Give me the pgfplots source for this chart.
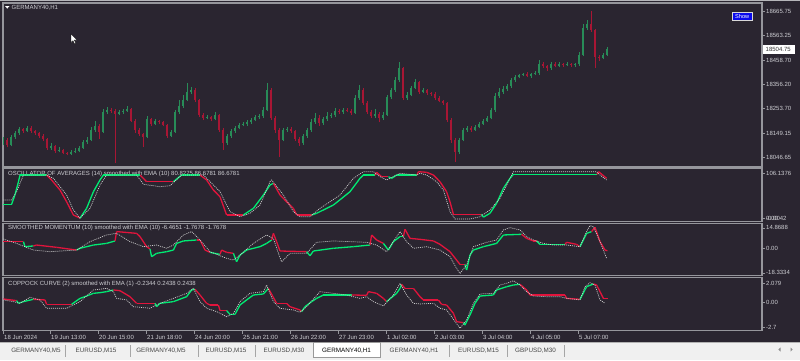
\documentclass[border=0pt]{standalone}
\usepackage{fontspec}
\setmainfont{Liberation Sans}
\usepackage{pgfplots}
\usepackage{pgfplotstable}
\pgfplotsset{compat=1.18}
\definecolor{bg}{RGB}{42,37,48}
\definecolor{bordc}{RGB}{150,150,156}
\definecolor{labc}{RGB}{205,205,210}
\definecolor{cgreen}{RGB}{40,140,88}
\definecolor{cred}{RGB}{168,22,52}
\definecolor{igreen}{RGB}{0,235,115}
\definecolor{ired}{RGB}{225,20,60}
\definecolor{sigc}{RGB}{205,205,205}
\definecolor{tabbg}{RGB}{240,240,240}
\definecolor{tabtx}{RGB}{70,70,70}
\definecolor{showblue}{RGB}{10,10,235}
\newcommand\lbl{\fontsize{6}{7}\selectfont}
\newcommand\tabf{\fontsize{6.3}{7}\selectfont}

\pgfplotstableread{
x o h l c
0 18110 18135 18098 18121
2 18121 18130 18090 18100
4 18100 18140 18094 18133
6 18133 18158 18126 18150
8 18150 18176 18143 18167
10 18167 18173 18152 18159
12 18159 18180 18154 18172
14 18172 18178 18152 18159
16 18159 18165 18144 18150
18 18150 18156 18131 18138
20 18138 18145 18118 18125
22 18125 18131 18078 18087
24 18087 18110 18080 18095
26 18095 18100 18066 18074
28 18074 18090 18068 18078
30 18078 18083 18060 18066
32 18066 18072 18056 18062
34 18062 18078 18058 18070
36 18070 18085 18064 18074
38 18074 18095 18068 18087
40 18087 18120 18082 18112
42 18112 18135 18104 18121
44 18121 18175 18115 18163
46 18163 18200 18155 18180
48 18180 18188 18125 18155
50 18155 18250 18150 18239
52 18239 18262 18230 18248
54 18248 18256 18236 18245
56 18245 18250 18023 18232
58 18232 18248 18225 18240
60 18240 18252 18232 18245
62 18245 18265 18240 18252
64 18252 18258 18195 18201
66 18201 18208 18150 18163
68 18163 18170 18138 18146
70 18146 18152 18091 18134
72 18134 18222 18128 18210
74 18210 18216 18182 18189
76 18189 18210 18183 18201
78 18201 18206 18190 18197
80 18197 18203 18178 18184
82 18184 18190 18130 18138
84 18138 18165 18132 18155
86 18155 18246 18150 18239
88 18239 18290 18233 18265
90 18265 18310 18258 18290
92 18290 18362 18284 18324
94 18324 18345 18315 18332
96 18332 18340 18282 18290
98 18290 18296 18218 18227
100 18227 18234 18205 18214
102 18214 18228 18208 18218
104 18218 18224 18202 18210
106 18210 18240 18204 18227
108 18227 18233 18155 18163
110 18163 18170 18078 18108
112 18108 18145 18100 18138
114 18138 18168 18130 18159
116 18159 18182 18150 18172
118 18172 18192 18166 18184
120 18184 18198 18178 18189
122 18189 18205 18182 18197
124 18197 18212 18190 18205
126 18205 18226 18200 18218
128 18218 18230 18210 18222
130 18222 18262 18216 18248
132 18248 18362 18242 18332
134 18332 18340 18205 18214
136 18214 18222 18150 18163
138 18163 18170 18049 18121
140 18121 18172 18115 18163
142 18163 18176 18155 18167
144 18167 18174 18150 18159
146 18159 18165 18116 18125
148 18125 18132 18095 18108
150 18108 18146 18100 18138
152 18138 18172 18130 18163
154 18163 18208 18155 18197
156 18197 18235 18190 18214
158 18214 18225 18180 18193
160 18193 18220 18185 18210
162 18210 18240 18203 18222
164 18222 18236 18215 18227
166 18227 18255 18220 18244
168 18244 18250 18232 18239
170 18239 18256 18232 18248
172 18248 18255 18238 18244
174 18244 18250 18228 18235
176 18235 18310 18230 18299
178 18299 18354 18290 18332
180 18332 18340 18268 18277
182 18277 18285 18230 18239
184 18239 18246 18212 18222
186 18222 18250 18215 18231
188 18231 18238 18195 18214
190 18214 18240 18205 18227
192 18227 18312 18222 18303
194 18303 18342 18296 18332
196 18332 18388 18326 18375
198 18375 18451 18368 18426
200 18426 18432 18290 18299
202 18299 18322 18290 18311
204 18311 18350 18305 18341
206 18341 18380 18335 18366
208 18366 18372 18316 18324
210 18324 18340 18318 18332
212 18332 18338 18312 18320
214 18320 18326 18308 18316
216 18316 18322 18292 18299
218 18299 18305 18280 18286
220 18286 18292 18268 18277
222 18277 18282 18195 18205
224 18205 18212 18110 18121
226 18121 18128 18028 18070
228 18070 18130 18062 18121
230 18121 18172 18115 18163
232 18163 18182 18155 18172
234 18172 18180 18155 18163
236 18163 18184 18158 18176
238 18176 18196 18170 18189
240 18189 18208 18184 18201
242 18201 18222 18196 18214
244 18214 18258 18208 18248
246 18248 18318 18240 18307
248 18307 18340 18298 18324
250 18324 18350 18315 18337
252 18337 18360 18330 18349
254 18349 18385 18342 18375
256 18375 18395 18368 18388
258 18388 18402 18382 18396
260 18396 18406 18390 18400
262 18400 18408 18386 18392
264 18392 18406 18385 18400
266 18400 18412 18394 18405
268 18405 18460 18398 18443
270 18443 18452 18426 18434
272 18434 18440 18415 18426
274 18426 18452 18418 18443
276 18443 18450 18428 18434
278 18434 18450 18428 18443
280 18443 18448 18432 18438
282 18438 18450 18434 18443
284 18443 18448 18432 18438
286 18438 18448 18432 18443
288 18443 18492 18436 18481
290 18481 18612 18476 18595
292 18595 18628 18588 18612
294 18612 18667 18578 18587
296 18587 18592 18426 18472
298 18472 18480 18455 18468
300 18468 18488 18462 18481
302 18481 18515 18476 18505
}\candles

\pgfplotstableread{
b v f
0.2 32.3 1
4.3 32.3 1
6 55 1
7.7 85 1
8.5 101.4 1
21.8 101.4 0
24.3 89.6 0
28.5 66.0 0
31.8 38.4 0
35.2 7.1 0
37.7 1.6 0
38.5 -0.4 1
41.8 22.8 1
45.2 62.0 1
48.5 89.6 1
50.2 101.4 1
68.5 101.4 0
71.8 85.6 0
85.2 85.6 1
89.3 101.4 1
98.5 101.4 0
101.8 89.6 0
105.2 66.0 0
108.5 50.2 0
111.8 7.1 0
120.2 7.1 1
125.2 22.8 1
130.2 54.2 1
133.5 77.8 1
135.2 81.8 0
138.5 54.2 0
141.8 38.4 0
145.2 22.8 0
146.8 7.1 0
154.3 7.1 1
156.8 11.1 1
165.2 30.6 1
173.5 62.0 1
178.5 93.6 1
180.2 101.4 1
186 101.4 0
186.8 107.8 0
189.3 97.4 0
192.7 97.4 1
194.3 93.6 1
196.8 101.4 1
207 101.4 0
207.7 109.2 0
211.8 107.8 0
215.2 101.4 0
218.5 85.6 0
221.8 62.0 0
223.5 38.4 0
225.2 8.7 0
239.3 8.7 1
240.2 2.0 1
243.5 11.1 1
246.8 34.6 1
250.2 70.0 1
253.5 93.6 1
255.2 103.1 1
297 103.1 0
297.8 109.2 0
301.8 93.6 0
}\osc

\pgfplotstableread{
b s
0.2 42.4
4.3 42.4
6.8 62
10.2 101.4
21.8 101.4
25.2 93.6
31.8 54.2
35.2 18.9
38.5 -0.4
43.5 22.8
48.5 77.8
51.8 101.4
66.8 101.4
70.2 79.5
78.5 73.8
83.5 76.2
89.3 101.4
100.2 101.4
103.5 85.6
108.5 62.0
113.5 14.9
118.5 3.1
123.5 11.1
128.5 30.6
133.5 85.6
134.3 89.6
140.2 54.2
145.2 14.9
148.5 3.1
153.5 3.1
158.5 22.8
168.5 54.2
175.2 93.6
180.2 109.2
185.2 109.2
188.5 97.4
191.8 89.6
198.5 105.4
206.8 101.4
208.5 105.4
211.8 101.4
216.8 85.6
220.2 66.0
223.5 14.9
226 -2.4
233.5 -2.4
238.5 3.1
243.5 18.9
248.5 46.4
251.8 77.8
255.2 109.2
296.8 109.2
298.5 101.4
301.8 89.6
}\oscs

\pgfplotstableread{
b v f
0.2 4.7 0
10.2 4.7 1
11 1.0 1
15.2 1.5 0
16.8 2.2 0
26.8 0.5 0
36.8 -1.5 1
38.5 -0.2 1
45.2 2.2 1
51.8 3.4 1
56 5.2 0
56.8 12.1 0
66.8 10.8 0
68.5 8.4 0
71.8 1.0 0
73.5 -0.7 1
74.3 -6.4 1
76.8 -3.9 1
81.8 -2.7 1
85.2 -1.5 1
86.8 3.4 1
90.2 5.2 1
96.8 5.9 0
98.5 5.9 0
101 -1.5 0
103.5 -3.2 1
108.5 -4.7 0
109.3 -1.5 0
111.8 -3.2 0
115.2 -3.9 1
116.8 -10.1 1
118.5 -5.2 1
121.8 -1.5 1
128.5 1.0 1
131.8 3.4 1
134.3 5.9 0
135.2 10.8 0
136.8 4.7 0
138.5 -2.2 0
151.8 -2.7 1
153.5 -5.7 1
155.2 -2.2 1
165.2 -0.2 1
175.2 1.0 1
183.5 2.2 0
184.3 9.6 0
186.8 5.9 0
190.2 3.4 1
192.7 -1.5 1
195.2 4.7 1
198.5 8.4 1
200.2 8.4 0
201 13.8 0
203.5 7.1 0
208.5 6.4 0
215.2 5.2 0
218.5 2.7 0
223.5 -2.7 0
226.8 -8.9 0
228.5 -12.1 0
231 -12.1 1
231.8 -16.2 1
233.5 -5.2 1
235.2 -1.5 1
240.2 1.0 1
246.8 3.4 1
250.2 9.6 1
259.3 10.1 0
261.8 7.1 0
265.2 5.2 0
266.8 5.2 1
268.5 2.7 1
281 2.7 0
281.8 4.2 0
286.8 2.7 0
288.5 1.0 1
291.8 10.8 1
294.3 12.1 0
296 15.3 0
298.5 4.7 0
301 -1.5 0
302.2 -2.0 0
}\mom

\pgfplotstableread{
b s
0.2 6.6
6.8 3.4
15.2 -1.5
23.5 -2.7
36.8 -1.5
43.5 4.7
51.8 9.6
56.8 10.8
63.5 4.7
70.2 1.0
76.8 2.2
81.8 -0.2
85.2 2.2
90.2 9.6
94.3 12.1
98.5 5.9
103.5 -2.7
111.8 -7.6
115.2 -8.9
118.5 -5.2
125.2 3.4
131.8 9.6
135.2 7.1
137.7 -3.9
139.3 -10.1
143.5 -3.9
151.8 -3.9
156.8 4.2
165.2 5.2
181.8 4.2
186.8 2.2
191.8 -2.7
196.8 8.4
198.5 12.1
201.8 4.7
205.2 -0.2
211.8 1.0
218.5 -1.5
223.5 -6.4
226.8 -15.0
228.5 -18.7
231.8 -12.5
235.2 1.0
241.8 4.2
246.8 5.9
250.2 13.3
253.5 15.0
258.5 13.3
261.8 8.4
265.2 5.9
270.2 3.4
275.2 2.2
281.8 2.2
288.5 1.0
291.8 12.1
293.5 16.5
295.2 15.7
298.5 4.7
301.8 -7.6
}\moms

\pgfplotstableread{
b v f
0.2 0.36 0
6.8 0.19 1
7.7 -0.10 1
10.2 0.08 1
15.2 0.33 0
21 0.26 0
21.8 -0.21 0
34.3 -0.21 1
38.5 0.43 1
41.8 0.68 1
45.2 0.97 1
48.5 1.04 1
51.8 1.15 1
55.2 1.33 0
58.5 1.25 0
63.5 0.61 0
66.8 -0.10 0
76 -0.10 1
76.8 -0.46 1
78.5 -0.10 1
85.2 0.08 1
91.8 0.61 1
94.3 1.33 1
96 1.40 0
98.5 0.79 0
101.8 -0.10 0
103.5 -0.28 0
107.7 -0.28 0
108.5 -0.88 0
111.8 -0.88 1
113.5 -1.28 1
116 -1.28 1
118.5 -0.28 1
121.8 0.26 1
125.2 0.79 1
130.2 0.90 1
132.7 1.50 0
136.8 -0.10 0
141.8 -0.10 0
143.5 -0.46 0
148.5 -0.81 0
149.3 -0.99 1
151 -0.46 1
154.3 0.08 1
156.8 0.43 1
160.2 0.79 1
174.3 0.79 0
181.8 0.76 0
182.7 1.15 0
186.8 0.97 0
190.2 0.43 0
191.8 0.08 1
196.8 0.97 1
198.5 1.50 1
199.3 1.93 0
201 1.50 0
205.2 1.50 0
208.5 0.61 0
210.2 0.26 0
217.7 0.26 0
219.3 -0.21 0
221.8 -0.28 0
225.2 -1.17 0
226.8 -2.06 0
230.2 -2.17 1
231 -2.42 1
233.5 -1.35 1
236 -0.10 1
238.5 0.68 1
245.2 0.79 1
246.8 1.33 1
251.8 1.68 1
255.2 1.86 1
258.5 1.93 0
261.8 1.33 0
263.5 0.79 0
281 0.79 0
281.8 0.43 0
288.5 0.33 1
291.8 1.68 1
295.2 1.97 0
296.8 1.86 0
298.5 1.15 0
300.2 0.43 0
302.7 0.43 0
}\cop

\pgfplotstableread{
b s
0.2 0.26
5.2 0.08
8.5 -0.10
13.5 0.54
18.5 0.26
21.8 -0.63
31.8 -0.63
38.5 0.08
45.2 1.33
51.8 1.50
55.2 1.15
56.8 0.43
61.8 0.26
65.2 -0.46
73.5 -0.63
78.5 -0.10
85.2 0.43
91.8 0.97
95.2 1.50
98.5 0.08
101.8 -0.63
106.8 -0.99
111.8 -1.53
115.2 -1.17
118.5 0.08
123.5 0.97
130.2 1.15
131.8 1.86
135.2 0.08
138.5 -0.63
145.2 -0.81
148.5 -1.06
151.8 -0.46
158.5 1.15
165.2 0.97
171.8 0.79
178.5 0.43
181.8 0.61
185.2 0.08
190.2 -0.38
195.2 0.79
198.5 2.04
201.8 0.79
205.2 -0.10
208.5 -0.17
215.2 -0.10
218.5 -0.63
221.8 -0.81
225.2 -1.81
228.5 -2.77
231.8 -1.88
235.2 -0.10
238.5 0.90
245.2 0.97
248.5 1.86
251.8 2.04
255.2 2.32
258.5 1.86
261.8 1.15
265.2 0.68
271.8 0.61
278.5 0.61
281.8 0.43
288.5 0.26
291 1.68
293.5 2.11
296 1.86
298.5 0.26
301 -0.10
}\cops

\pgfplotsset{
  pane/.style={scale only axis, width=759pt, xmin=0, xmax=379.5,
    anchor=north west,
    axis line style={draw=bordc, line width=1.1pt},
    xtick=\empty, ytick pos=right, yticklabel pos=right,
    tick align=outside, major tick length=3pt,
    tick style={draw=bordc, line width=0.5pt},
    yticklabel style={font=\lbl, text=labc, anchor=west, inner sep=0pt, xshift=1pt},
    point meta min=0, point meta max=1,
    colormap={rg}{color(0)=(ired) color(1)=(igreen)}},
  ind/.style={mesh, shader=flat corner, line width=1.3pt, point meta=\thisrow{f}},
  sig/.style={draw=sigc, line width=0.7pt, dash pattern=on 1pt off 1pt},
}

\begin{document}
\begin{tikzpicture}
\useasboundingbox (0,0) rectangle (800pt,-360pt);
\fill[bg] (0,0) rectangle (800pt,-360pt);
\begin{scope}[x=1pt,y=-1pt]
  \fill[bordc!70] (0,0) rectangle (800,1.3);
  \fill[white] (5,6) -- (9.5,6) -- (7.25,8.6) -- cycle;
  \node[anchor=west, inner sep=0pt, text=labc, font=\lbl] at (11.5,7.4) {GERMANY40,H1};
  \node[anchor=west, inner sep=0pt, text=labc, font=\lbl] at (8,173.6) {OSCILLATOR OF AVERAGES (14) smoothed with EMA (10) 80.8275 86.6781 86.6781};
  \node[anchor=west, inner sep=0pt, text=labc, font=\lbl] at (8,227.8) {SMOOTHED MOMENTUM (10) smoothed with EMA (10) -6.4651 -1.7678 -1.7678};
  \node[anchor=west, inner sep=0pt, text=labc, font=\lbl] at (8,283.6) {COPPOCK CURVE (2) smoothed with EMA (1) -0.2344 0.2438 0.2438};
  \filldraw[fill=white, draw=black, line width=0.3pt] (71,34) -- (71,42.5) -- (73,40.6) -- (74.6,44) -- (75.8,43.4) -- (74.3,40) -- (77,40) -- cycle;
  \filldraw[fill=showblue, draw=white!85!black, line width=0.6pt] (732.5,12) rectangle (752,20.5);
  \node[text=white, inner sep=0pt, font=\fontsize{5.6}{6}\selectfont] at (742.2,16.3) {Show};
  \fill[white] (763,44.6) rectangle (794.5,53.6);
  \node[anchor=west, inner sep=0pt, text=black!80, font=\lbl] at (765.5,49.2) {18504.75};
  % tab bar
  \fill[tabbg] (0,342) rectangle (800,360);
  \draw[black!30, line width=0.5pt] (0,342.3) -- (800,342.3);
  \foreach \xx in {65,130,198,255,380,449,507,564} {\draw[black!35, line width=0.6pt] (\xx,345) -- (\xx,356.5);}
  \filldraw[fill=white, draw=black!40, line width=0.6pt] (313,342.6) rectangle (380,357.4);
  \node[text=tabtx, font=\tabf, inner sep=0pt] at (36,350.4) {GERMANY40,M5};
  \node[text=tabtx, font=\tabf, inner sep=0pt] at (96,350.4) {EURUSD,M15};
  \node[text=tabtx, font=\tabf, inner sep=0pt] at (161,350.4) {GERMANY40,M5};
  \node[text=tabtx, font=\tabf, inner sep=0pt] at (226,350.4) {EURUSD,M15};
  \node[text=tabtx, font=\tabf, inner sep=0pt] at (284,350.4) {EURUSD,M30};
  \node[text=black, font=\tabf, inner sep=0pt] at (346.5,350.4) {GERMANY40,H1};
  \node[text=tabtx, font=\tabf, inner sep=0pt] at (414,350.4) {GERMANY40,H1};
  \node[text=tabtx, font=\tabf, inner sep=0pt] at (478.5,350.4) {EURUSD,M15};
  \node[text=tabtx, font=\tabf, inner sep=0pt] at (535.5,350.4) {GBPUSD,M30};
  \fill[black!45] (780.5,347.5) -- (780.5,351.5) -- (778.3,349.5) -- cycle;
  \fill[black!45] (790.5,347.5) -- (790.5,351.5) -- (792.7,349.5) -- cycle;
\end{scope}

% main price pane
\begin{axis}[pane, at={(3pt,-3pt)}, height=164pt, ymin=18006.4, ymax=18700.9,
  ytick={18665.75,18563.25,18458.70,18356.20,18253.70,18149.15,18046.65},
  yticklabels={18665.75,18563.25,18458.70,18356.20,18253.70,18149.15,18046.65}]
  \addplot[draw=none, mark=none, forget plot,
    restrict expr to domain={\thisrow{c}-\thisrow{o}}{0:100000},
    error bars/.cd, y dir=plus, y explicit, error mark=none,
    error bar style={draw=cgreen, line width=0.7pt}]
    table[x=x, y=l, y error expr={\thisrow{h}-\thisrow{l}}] {\candles};
  \addplot[draw=none, mark=none, forget plot,
    restrict expr to domain={\thisrow{c}-\thisrow{o}}{0:100000},
    error bars/.cd, y dir=plus, y explicit, error mark=none,
    error bar style={draw=cgreen, line width=2.2pt}]
    table[x=x, y=o, y error expr={\thisrow{c}-\thisrow{o}}] {\candles};
  \addplot[draw=none, mark=none, forget plot,
    restrict expr to domain={\thisrow{c}-\thisrow{o}}{-100000:-0.5},
    error bars/.cd, y dir=plus, y explicit, error mark=none,
    error bar style={draw=cred, line width=0.7pt}]
    table[x=x, y=l, y error expr={\thisrow{h}-\thisrow{l}}] {\candles};
  \addplot[draw=none, mark=none, forget plot,
    restrict expr to domain={\thisrow{c}-\thisrow{o}}{-100000:-0.5},
    error bars/.cd, y dir=plus, y explicit, error mark=none,
    error bar style={draw=cred, line width=2.2pt}]
    table[x=x, y=c, y error expr={\thisrow{o}-\thisrow{c}}] {\candles};
\end{axis}

% oscillator of averages
\begin{axis}[pane, at={(3pt,-168.3pt)}, height=53.4pt, ymin=-8.74, ymax=117.2,
  ytick={106.1376,-0.0042,0}, yticklabels={106.1376,-0.0042,0.00}]
  \addplot[ind] table[x=b, y=v] {\osc};
  \addplot[sig] table[x=b, y=s] {\oscs};
\end{axis}

% smoothed momentum
\begin{axis}[pane, at={(3pt,-223.7pt)}, height=52pt, ymin=-20.4, ymax=17.9,
  ytick={14.8688,0,-18.3334}, yticklabels={14.8688,0.00,-18.3334}]
  \addplot[ind] table[x=b, y=v] {\mom};
  \addplot[sig] table[x=b, y=s] {\moms};
\end{axis}

% coppock curve
\begin{axis}[pane, at={(3pt,-277.7pt)}, height=53pt, ymin=-3.03, ymax=2.64,
  ytick={2.079,0,-2.7}, yticklabels={2.079,0.00,-2.7},
  xtick={0,23.5,47.5,71.5,95.5,119.5,143.5,167.5,191.5,215.5,239.5,263.5,287.5},
  xtick pos=bottom,
  xticklabels={18 Jun 2024,19 Jun 13:00,20 Jun 15:00,21 Jun 18:00,24 Jun 20:00,25 Jun 21:00,26 Jun 22:00,27 Jun 23:00,1 Jul 02:00,2 Jul 03:00,3 Jul 04:00,4 Jul 05:00,5 Jul 07:00},
  xticklabel style={font=\lbl, text=labc, anchor=north west, inner sep=0pt, xshift=1pt, yshift=-1pt}]
  \addplot[ind] table[x=b, y=v] {\cop};
  \addplot[sig] table[x=b, y=s] {\cops};
\end{axis}
\end{tikzpicture}
\end{document}
